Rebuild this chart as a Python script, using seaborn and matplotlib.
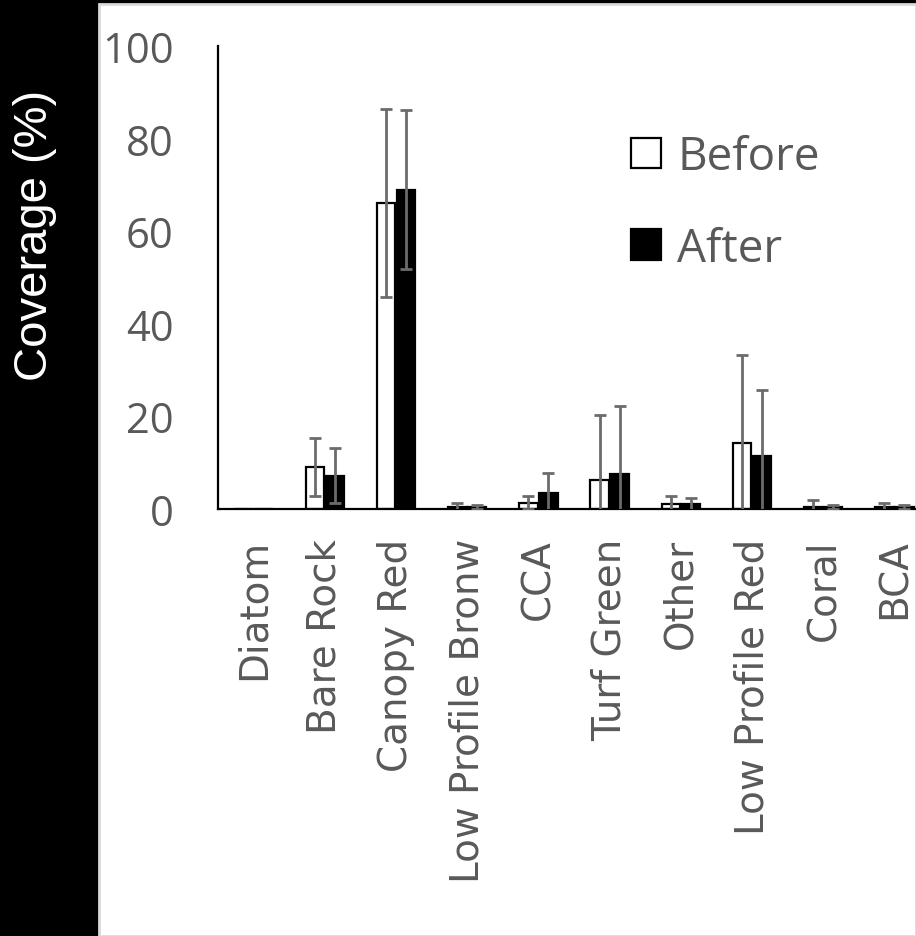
import numpy as np
import pandas as pd
import matplotlib
matplotlib.use("Agg")
import matplotlib.pyplot as plt
import seaborn as sns
from matplotlib.patches import Rectangle, Patch

# ==================================================
# DATA
# ==================================================

categories = ["Diatom", "Bare Rock", "Canopy Red", "Low Profile Bronw", "CCA",
              "Turf Green", "Other", "Low Profile Red", "Coral", "BCA"]

before_mean = [0.0, 9.1, 66.1, 0.4, 1.4, 6.3, 1.0, 14.3, 0.5, 0.5]
before_sd = [0.0, 6.3, 20.4, 1.0, 1.4, 14.1, 1.8, 19.0, 1.4, 0.9]

after_mean = [0.0, 7.2, 69.0, 0.4, 3.5, 7.6, 1.0, 11.5, 0.5, 0.5]
after_sd = [0.0, 6.0, 17.1, 0.5, 4.2, 14.7, 1.4, 14.2, 0.4, 0.4]

groups = ["Before", "After"]
y_ticks = [0, 20, 40, 60, 80, 100]

df = pd.DataFrame({
    "Category": categories * 2,
    "Group": ["Before"] * len(categories) + ["After"] * len(categories),
    "Coverage": before_mean + after_mean,
})

# ==================================================
# FIGURE
# ==================================================

sns.set_style("white")
plt.rcParams["font.family"] = ["DejaVu Sans"]

W, H = 916, 937
fig = plt.figure(figsize=(W / 100, H / 100), dpi=100, facecolor="black")

# white panel behind the axes
fig.patches.append(Rectangle((99 / W, 0), 1 - 99 / W, (H - 5) / H,
                             transform=fig.transFigure, facecolor="white",
                             edgecolor="#d9d9d9", linewidth=2, zorder=-5))

ax = fig.add_axes([218 / W, (H - 510) / H, (916 - 218) / W, (510 - 47) / H])
ax.set_facecolor("none")

sns.barplot(
    data=df, x="Category", y="Coverage", hue="Group",
    order=categories, hue_order=groups,
    palette={"Before": "white", "After": "black"},
    width=0.56, gap=0.07, errorbar=None,
    edgecolor="black", linewidth=1.6, legend=False, ax=ax,
)

# error bars
x = np.arange(len(categories))
for off, m, s in [(-0.14, before_mean, before_sd), (0.14, after_mean, after_sd)]:
    m = np.array(m)
    s = np.array(s)
    mask = s > 0
    ax.errorbar(x[mask] + off, m[mask], yerr=s[mask], fmt="none",
                ecolor="#6b6b6b", elinewidth=2, capsize=4.6, capthick=2,
                zorder=5)

ax.set_xlim(-0.5, -0.5 + (916 - 218) / 71.2)
ax.set_ylim(0, 100)
ax.set_yticks(y_ticks)
ax.set_yticklabels([str(t) for t in y_ticks], fontsize=30,
                   family="Open Sans", color="#595959")
ax.set_xticks(x)
ax.set_xticklabels(categories, rotation=90, fontsize=28, color="#595959")
ax.tick_params(axis="both", length=0)
ax.tick_params(axis="y", pad=32)
ax.tick_params(axis="x", pad=21)
ax.set_xlabel("")
ax.set_ylabel("")

for side in ["top", "right"]:
    ax.spines[side].set_visible(False)
for side in ["left", "bottom"]:
    ax.spines[side].set_color("black")
    ax.spines[side].set_linewidth(1.6)

# legend
handles = [Patch(facecolor="white", edgecolor="black", linewidth=1.6),
           Patch(facecolor="black", edgecolor="black", linewidth=1.6)]
fs = 33
leg = fig.legend(handles, groups, loc="upper left",
                 bbox_to_anchor=(631 / W, 1 - 135 / H),
                 frameon=False, borderpad=0, borderaxespad=0,
                 handlelength=30 / (fs * 100 / 72), handleheight=30 / (fs * 100 / 72),
                 handletextpad=0.35, labelspacing=1.0,
                 prop={"family": "Open Sans", "size": fs})
for t in leg.get_texts():
    t.set_color("#595959")

# y label
fig.text(35 / W, 1 - 235 / H, "Coverage (%)", rotation=90, color="white",
         fontsize=34, family="Liberation Sans", ha="center", va="center")

plt.savefig("out.png", dpi=100, facecolor="black")
